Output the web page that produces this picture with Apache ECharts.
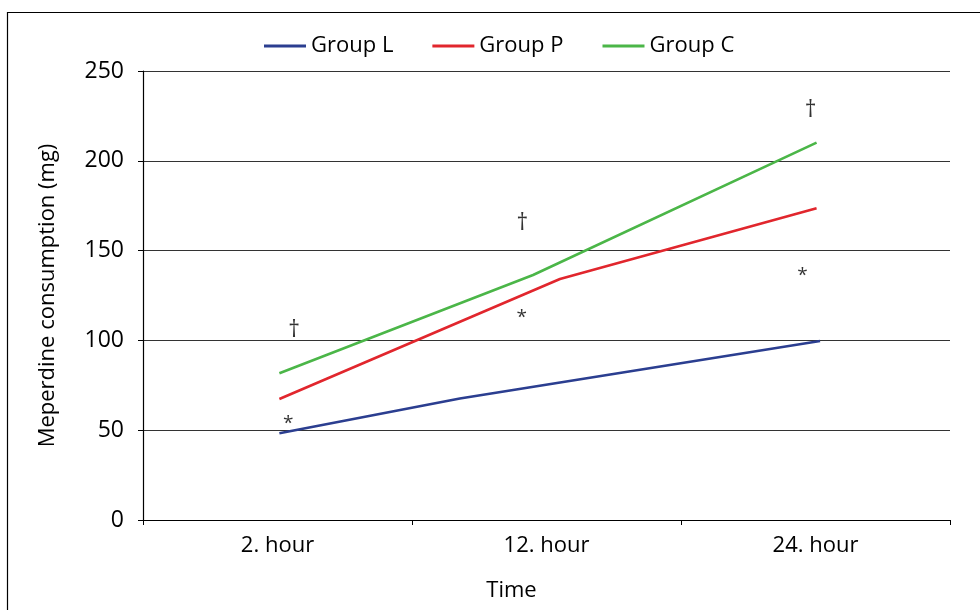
<!DOCTYPE html>
<html>
<head>
<meta charset="utf-8">
<script src="https://cdn.jsdelivr.net/npm/echarts@6/dist/echarts.min.js"></script>
<style>html,body{margin:0;padding:0;background:#fff;}#c{width:980px;height:610px;}</style>
</head>
<body>
<div id="c"></div>
<script>
// Data
var categories = ['2. hour', '12. hour', '24. hour'];
var yTicks = [0, 50, 100, 150, 200, 250];
// [x position in category units (0..3), value]
var groupL = [[0.507, 48.3], [1.178, 67.6], [2.517, 99.7]];
var groupP = [[0.507, 67.4], [1.550, 134.2], [2.504, 173.6]];
var groupC = [[0.507, 81.7], [1.450, 136.4], [2.504, 210.1]];
var daggers = [[0.562, 105.8], [1.410, 165.2], [2.482, 227.9]];
var stars = [[0.540, 55.7], [1.408, 115.1], [2.452, 138.3]];
var seriesNames = ['Group L', 'Group P', 'Group C'];

var FONT = '"Open Sans", sans-serif';
var chart = echarts.init(document.getElementById('c'), null, {renderer: 'canvas'});
function lineSeries(name, data, color) {
  return {
    name: name, type: 'line', xAxisIndex: 1, yAxisIndex: 0, data: data,
    symbol: 'none', lineStyle: {color: color, width: 2.6}, itemStyle: {color: color},
    animation: false, z: 3
  };
}
function markSeries(data, text, size, offset, weight) {
  return {
    type: 'scatter', xAxisIndex: 1, yAxisIndex: 0, data: data,
    symbolSize: 0.1, itemStyle: {color: 'rgba(0,0,0,0)'}, silent: true, animation: false,
    label: {show: true, position: 'inside', formatter: text, color: '#000',
      fontFamily: FONT, fontSize: size, fontWeight: weight, offset: offset}
  };
}
chart.setOption({
  backgroundColor: '#fff',
  animation: false,
  graphic: [{
    type: 'polyline', silent: true,
    shape: {points: [[7.5, 610], [7.5, 12.5], [980, 12.5]]},
    style: {stroke: '#000', lineWidth: 1.2, fill: null}
  }],
  legend: {
    data: seriesNames, left: 259, top: 30,
    icon: 'rect', itemWidth: 42, itemHeight: 3, itemGap: 39,
    textStyle: {fontFamily: FONT, fontSize: 22, color: '#000'}
  },
  grid: {left: 143, right: 30, top: 71, bottom: 90, containLabel: false},
  xAxis: [{
    type: 'category', data: categories, boundaryGap: true,
    name: 'Time', nameLocation: 'middle', nameGap: 60,
    nameTextStyle: {fontFamily: FONT, fontSize: 22, color: '#000', padding: [0, 70, 0, 0]},
    axisLine: {lineStyle: {color: '#000', width: 1.2}},
    axisTick: {show: true, alignWithLabel: false, length: 5, lineStyle: {color: '#000'}},
    axisLabel: {fontFamily: FONT, fontSize: 22, color: '#000', margin: 15},
    splitLine: {show: false}
  }, {
    type: 'value', min: 0, max: 3, show: false
  }],
  yAxis: [{
    type: 'value', min: yTicks[0], max: yTicks[yTicks.length - 1], interval: 50,
    name: 'Meperdine consumption (mg)', nameLocation: 'middle', nameGap: 84,
    nameTextStyle: {fontFamily: FONT, fontSize: 22, color: '#000'},
    axisLine: {show: true, lineStyle: {color: '#000', width: 1.2}},
    axisTick: {show: true, length: 5, lineStyle: {color: '#000'}},
    axisLabel: {fontFamily: FONT, fontSize: 23, color: '#000', margin: 19},
    splitLine: {show: true, lineStyle: {color: '#333', width: 1.2}}
  }],
  series: [
    lineSeries(seriesNames[0], groupL, '#2b3e90'),
    lineSeries(seriesNames[1], groupP, '#e1262d'),
    lineSeries(seriesNames[2], groupC, '#4bb648'),
    markSeries(daggers, '\u2020', 23, [0, 0], 'normal'),
    markSeries(stars, '*', 19, [0, 4], 'normal')
  ]
});
</script>
</body>
</html>
